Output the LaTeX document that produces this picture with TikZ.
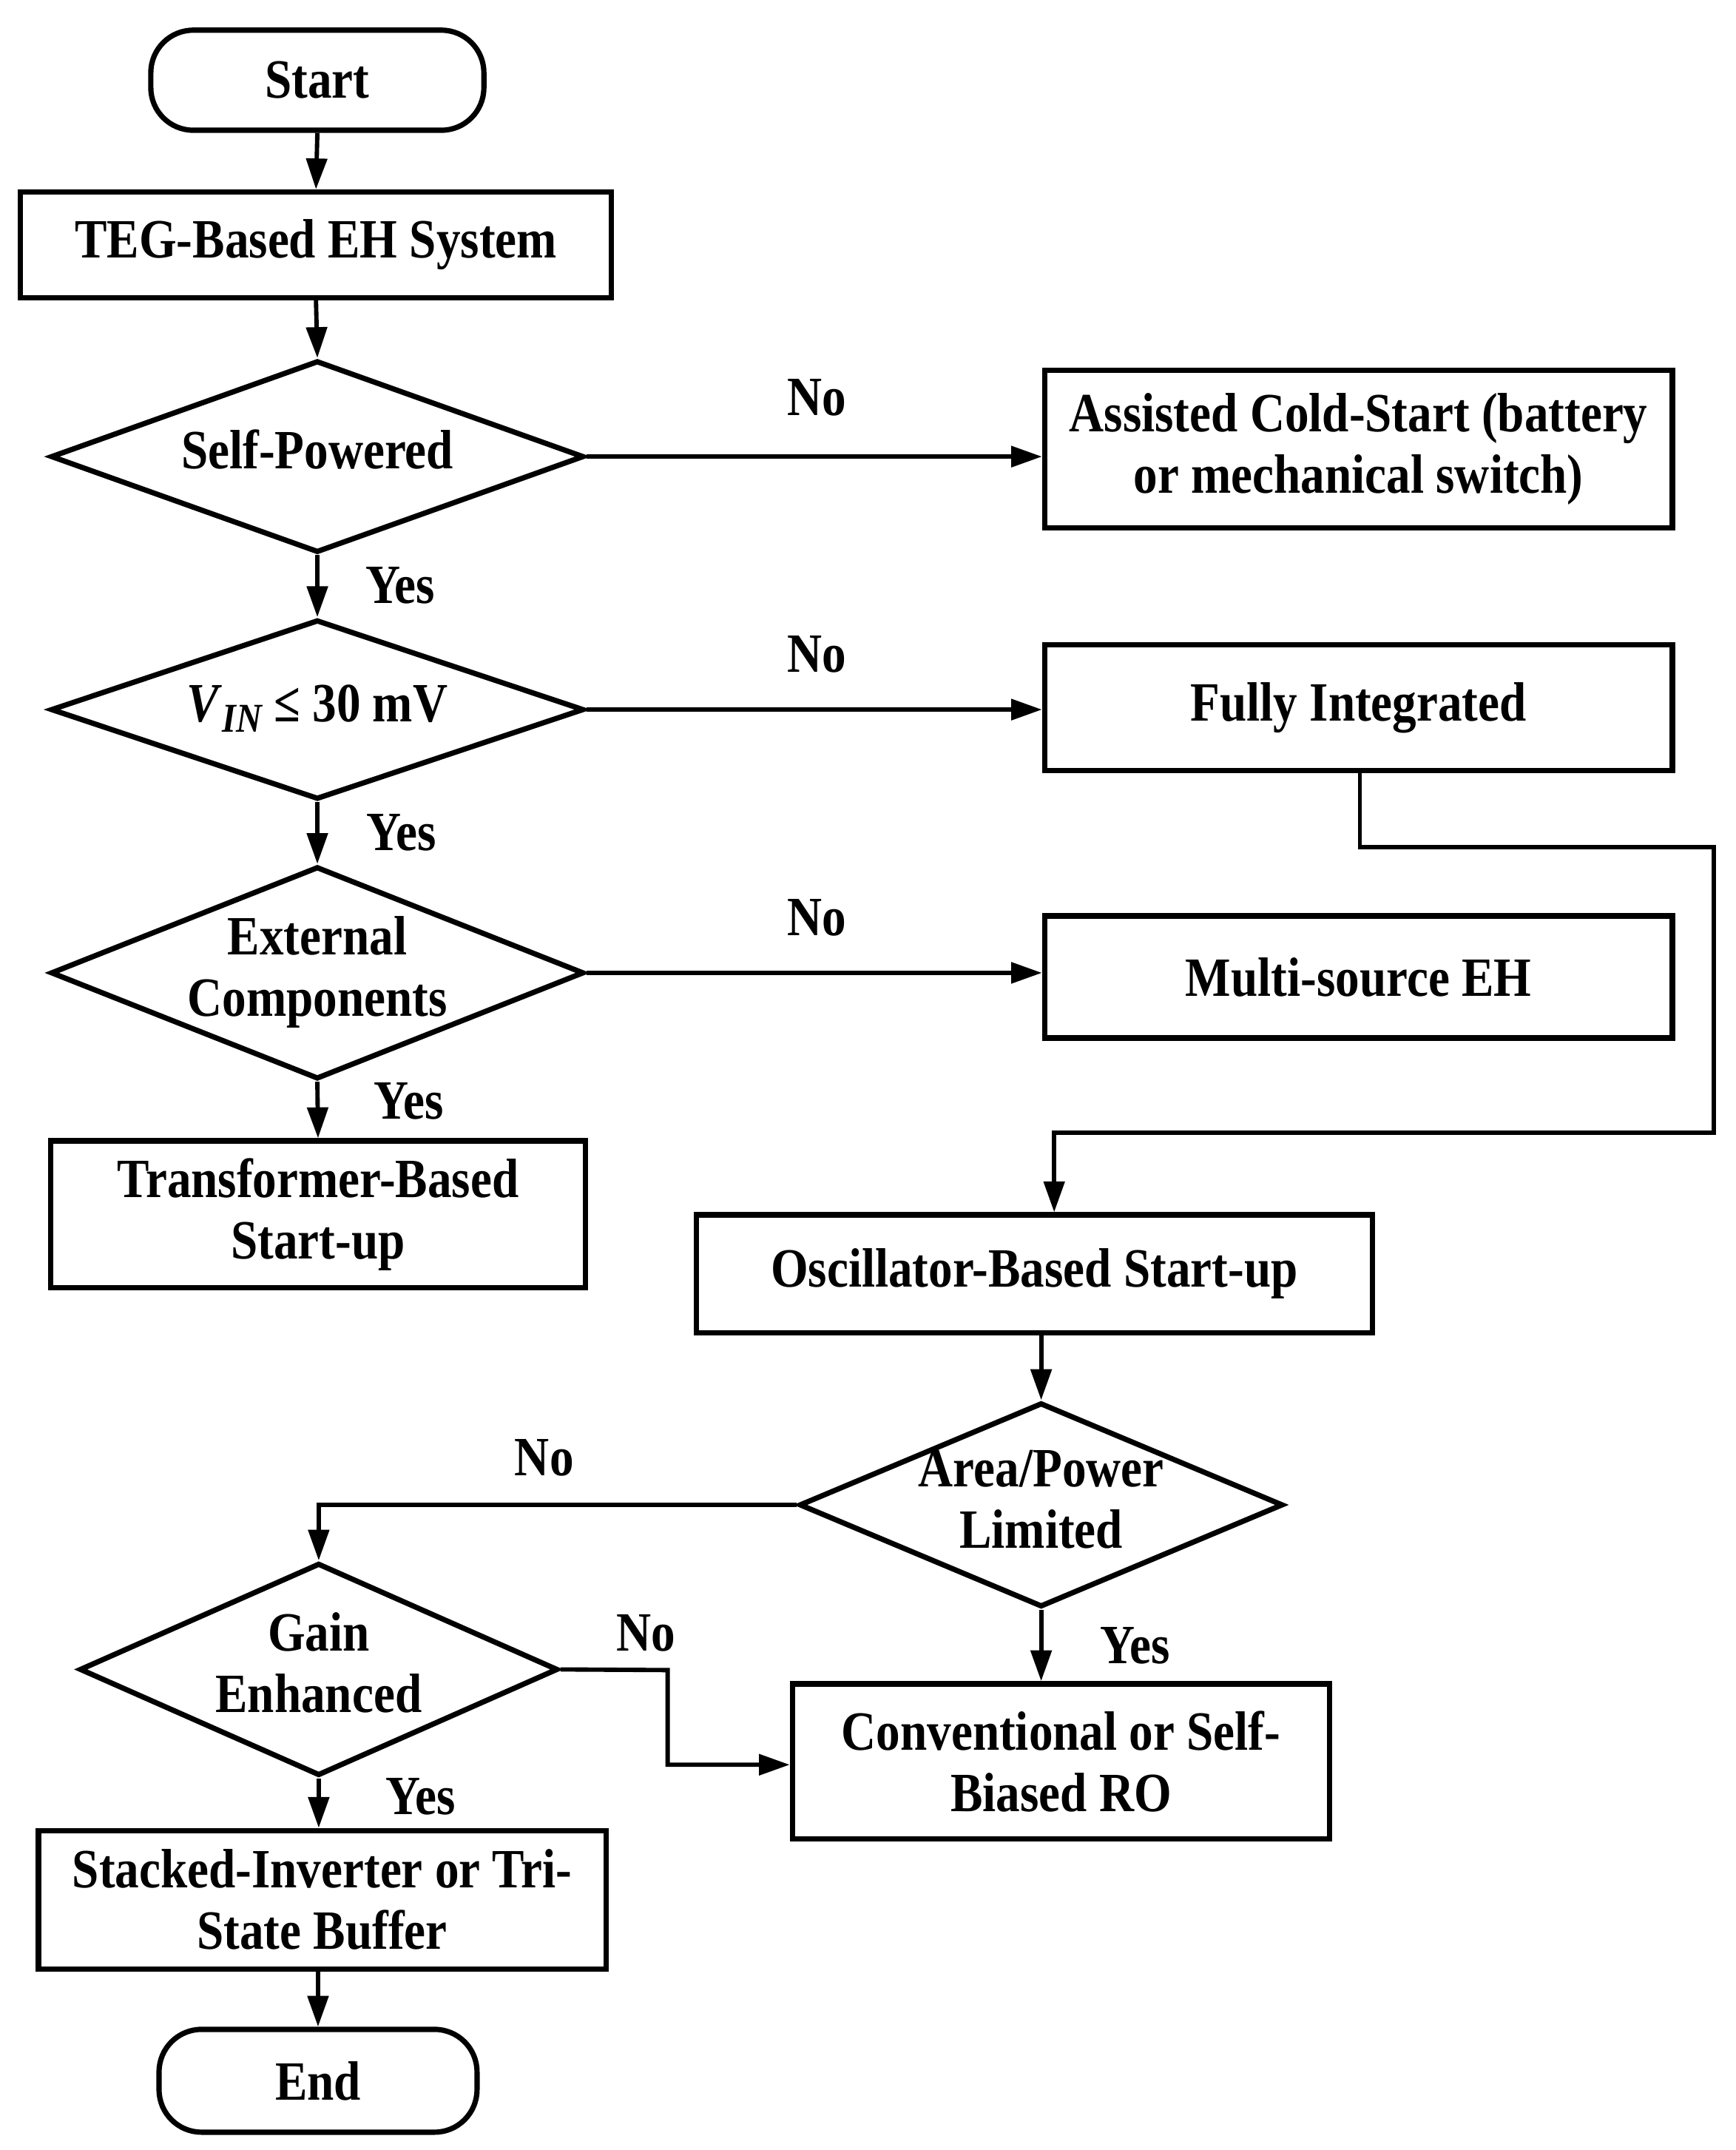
\documentclass[tikz,border=0pt]{standalone}
\usepackage{fontspec}
\setmainfont{Liberation Serif}[FakeStretch=0.87]
\usetikzlibrary{arrows.meta,shapes.geometric}
\newcommand\dtext[1]{\hbox to 0pt{\hss\begin{tabular}{@{}c@{}}#1\end{tabular}\hss}}
\begin{document}
\begin{tikzpicture}[x=0.02cm,y=-0.02cm,
  every node/.style={font=\fontsize{23}{25.5}\selectfont\bfseries},
  box/.style={draw,line width=2.2pt,align=center,inner sep=0pt},
  term/.style={box,rounded corners=0.62cm},
  dia/.style={draw,diamond,line width=2.2pt,inner sep=0pt},
  conn/.style={line width=1.8pt,-{Triangle[length=0.45cm,width=0.3cm]}},
  lbl/.style={inner sep=0pt}]
\useasboundingbox (0,0) rectangle (1266,1568);
% nodes
\node[term,minimum width=4.86cm,minimum height=1.46cm] (start) at (231.5,58.5) {Start};
\node[box,minimum width=8.62cm,minimum height=1.54cm] (teg) at (230.5,178.5) {TEG-Based EH System};
\node[dia,minimum width=7.78cm,minimum height=2.8cm] (self) at (231.5,333) {\dtext{Self-Powered}};
\node[dia,minimum width=7.78cm,minimum height=2.62cm] (vin) at (231.5,517.5) {\dtext{\textit{V}\raisebox{-0.4ex}{\fontsize{17}{18}\selectfont\itshape IN} ≤ 30 mV}};
\node[dia,minimum width=7.78cm,minimum height=3.1cm] (ext) at (231.5,709.5) {\dtext{External\\Components}};
\node[box,minimum width=7.8cm,minimum height=2.14cm] (trans) at (232,885.5) {Transformer-Based\\Start-up};
\node[box,minimum width=9.16cm,minimum height=2.3cm] (assist) at (991,327.5) {Assisted Cold-Start (battery\\or mechanical switch)};
\node[box,minimum width=9.16cm,minimum height=1.84cm] (fully) at (991,516) {Fully Integrated};
\node[box,minimum width=9.16cm,minimum height=1.78cm] (multi) at (991,712.5) {Multi-source EH};
\node[box,minimum width=9.86cm,minimum height=1.72cm] (osc) at (754.5,929) {Oscillator-Based Start-up};
\node[dia,minimum width=7.06cm,minimum height=2.98cm] (area) at (759.5,1097.5) {\dtext{Area/Power\\Limited}};
\node[box,minimum width=7.84cm,minimum height=2.26cm] (conv) at (774,1284.5) {Conventional or Self-\\Biased RO};
\node[dia,minimum width=6.98cm,minimum height=3.1cm] (gain) at (232.5,1217.5) {\dtext{Gain\\Enhanced}};
\node[box,minimum width=8.28cm,minimum height=2.02cm] (stack) at (235,1385.5) {Stacked-Inverter or Tri-\\State Buffer};
\node[term,minimum width=4.64cm,minimum height=1.5cm] (end) at (232,1517.5) {End};
% labels
\node[lbl] (n1) at (596,290) {No};
\node[lbl] (n2) at (596,477) {No};
\node[lbl] (n3) at (596,669) {No};
\node[lbl] (n4) at (397,1063) {No};
\node[lbl] (n5) at (471,1191) {No};
\node[lbl] (y1) at (292,427) {Yes};
\node[lbl] (y2) at (293,607) {Yes};
\node[lbl] (y3) at (298,803) {Yes};
\node[lbl] (y4) at (828,1200) {Yes};
\node[lbl] (y5) at (307,1310) {Yes};
% coordinates
\coordinate (f1) at (992,618);
\coordinate (f2) at (1250,618);
\coordinate (f3) at (1250,826);
\coordinate (f4) at (769,826);
\coordinate (g1) at (487,1218);
\coordinate (g2) at (487,1287);
% connectors
\draw[conn] (start.south) -- (teg.north);
\draw[conn] (teg.south) -- (self.north);
\draw[conn] (self.east) -- (self.east -| assist.west);
\draw[conn] (self.south) -- (vin.north);
\draw[conn] (vin.east) -- (vin.east -| fully.west);
\draw[conn] (vin.south) -- (ext.north);
\draw[conn] (ext.east) -- (ext.east -| multi.west);
\draw[conn] (ext.south) -- (trans.north);
\draw[conn] (f1 |- fully.south) -- (f1) -- (f2) -- (f3) -- (f4) -- (f4 |- osc.north);
\draw[conn] (osc.south -| area.north) -- (area.north);
\draw[conn] (area.west) -| (gain.north);
\draw[conn] (area.south) -- (area.south |- conv.north);
\draw[conn] (gain.east) -- (g1) -- (g2) -- (g2 -| conv.west);
\draw[conn] (gain.south) -- (gain.south |- stack.north);
\draw[conn] (stack.south -| end.north) -- (end.north);
\end{tikzpicture}
\end{document}
